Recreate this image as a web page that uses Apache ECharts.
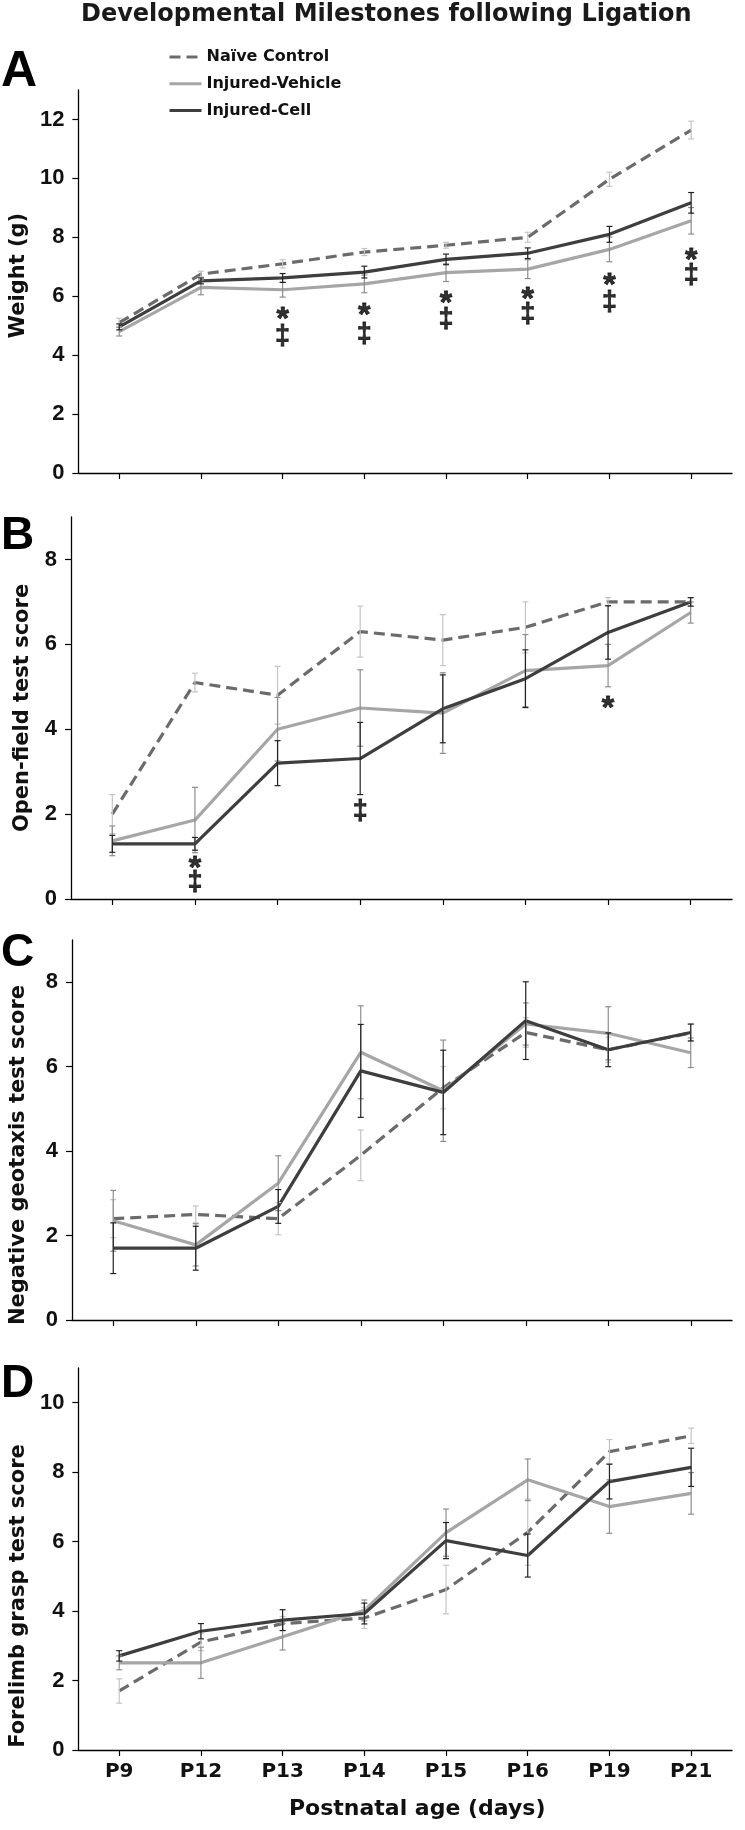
<!DOCTYPE html>
<html><head><meta charset="utf-8">
<script src="https://cdn.jsdelivr.net/npm/echarts@6/dist/echarts.min.js"></script>
<style>html,body{margin:0;padding:0;background:#fff}#c{width:745px;height:1830px}</style>
</head><body><div id="c"></div>
<script>
// ---------- data ----------
const categories = ['P9','P12','P13','P14','P15','P16','P19','P21'];
const seriesNames = ['Naïve Control','Injured-Vehicle','Injured-Cell'];

// A: Weight (g)
const weightNaive      = [5.1, 6.75, 7.1, 7.5, 7.73, 8.0, 9.97, 11.64];
const weightNaiveErr   = [0.15, 0.1, 0.14, 0.12, 0.1, 0.17, 0.24, 0.3];
const weightVehicle    = [4.8, 6.3, 6.22, 6.42, 6.8, 6.92, 7.59, 8.56];
const weightVehicleErr = [0.15, 0.25, 0.25, 0.3, 0.3, 0.32, 0.42, 0.45];
const weightCell       = [4.96, 6.52, 6.62, 6.82, 7.25, 7.46, 8.1, 9.17];
const weightCellErr    = [0.1, 0.1, 0.15, 0.2, 0.18, 0.18, 0.27, 0.35];
const weightStar       = [null, null, 5.47, 5.58, 6.0, 6.15, 6.6, 7.45];
const weightDagger     = [null, null, 4.56, 4.62, 5.13, 5.3, 5.72, 6.62];

// B: Open-field test score
const openNaive      = [2.0, 5.1, 4.8, 6.3, 6.1, 6.4, 7.0, 7.0];
const openNaiveErr   = [0.46, 0.22, 0.68, 0.6, 0.6, 0.6, 0.1, 0.1];
const openVehicle    = [1.37, 1.86, 4.0, 4.5, 4.38, 5.38, 5.5, 6.75];
const openVehicleErr = [0.35, 0.77, 0.75, 0.9, 0.95, 0.85, 0.5, 0.25];
const openCell       = [1.3, 1.3, 3.2, 3.31, 4.48, 5.19, 6.28, 7.0];
const openCellErr    = [0.2, 0.15, 0.53, 0.85, 0.8, 0.68, 0.63, 0.1];
const openStar       = [null, 0.88, null, null, null, null, 4.67, null];
const openDagger     = [null, 0.34, null, 2.01, null, null, null, null];

// C: Negative geotaxis test score
const geoNaive      = [2.4, 2.5, 2.4, 3.9, 5.5, 6.81, 6.4, 6.8];
const geoNaiveErr   = [0.45, 0.2, 0.38, 0.6, 0.5, 0.35, 0.3, 0.2];
const geoVehicle    = [2.35, 1.78, 3.24, 6.34, 5.43, 7.01, 6.79, 6.33];
const geoVehicleErr = [0.72, 0.5, 0.65, 1.1, 1.2, 0.5, 0.63, 0.35];
const geoCell       = [1.7, 1.7, 2.69, 5.9, 5.39, 7.09, 6.4, 6.81];
const geoCellErr    = [0.6, 0.52, 0.4, 1.1, 1.0, 0.92, 0.4, 0.2];

// D: Forelimb grasp test score
const graspNaive      = [1.7, 3.11, 3.64, 3.8, 4.62, 6.27, 8.59, 9.05];
const graspNaiveErr   = [0.35, 0.25, 0.2, 0.3, 0.7, 0.95, 0.35, 0.22];
const graspVehicle    = [2.51, 2.51, 3.26, 4.02, 6.26, 7.78, 7.01, 7.39];
const graspVehicleErr = [0.2, 0.45, 0.38, 0.3, 0.68, 0.6, 0.77, 0.6];
const graspCell       = [2.71, 3.42, 3.74, 3.93, 6.03, 5.6, 7.73, 8.14];
const graspCellErr    = [0.15, 0.22, 0.3, 0.3, 0.52, 0.62, 0.5, 0.55];

// axis ticks
const weightTicks = [0, 2, 4, 6, 8, 10, 12];
const scoreTicks9 = [0, 2, 4, 6, 8];
const graspTicks  = [0, 2, 4, 6, 8, 10];

// ---------- styling ----------
const DV = '"DejaVu Sans", sans-serif';
const AR = '"Liberation Sans", Arial, sans-serif';
const INK = '#111';
const C_NAIVE = '#6b6b6b', C_VEH = '#a6a6a6', C_CELL = '#3e3e3e';
const E_NAIVE = '#c4c4c4', E_VEH = '#8e8e8e', E_CELL = '#222';

const panels = [
  {name:'Weight (g)', top:90, height:383, max:13, ticks:weightTicks, nameGap:48, pad:[0,0,0,12],
   d:[weightNaive, weightVehicle, weightCell], e:[weightNaiveErr, weightVehicleErr, weightCellErr],
   star:weightStar, dagger:weightDagger},
  {name:'Open-field test score', top:517, height:382, max:9, ticks:scoreTicks9, nameGap:38, pad:[0,0,0,0],
   d:[openNaive, openVehicle, openCell], e:[openNaiveErr, openVehicleErr, openCellErr],
   star:openStar, dagger:openDagger},
  {name:'Negative geotaxis test score', top:940, height:380, max:9, ticks:scoreTicks9, nameGap:43, pad:[0,50,0,0],
   d:[geoNaive, geoVehicle, geoCell], e:[geoNaiveErr, geoVehicleErr, geoCellErr]},
  {name:'Forelimb grasp test score', top:1368, height:382, max:11, ticks:graspTicks, nameGap:47, pad:[0,74,0,0],
   d:[graspNaive, graspVehicle, graspCell], e:[graspNaiveErr, graspVehicleErr, graspCellErr]}
];

const grids = [], xAxes = [], yAxes = [], series = [];
const lineColors = [C_NAIVE, C_VEH, C_CELL];
const errColors = [E_NAIVE, E_VEH, E_CELL];

function errSeries(vals, errs, gi, color) {
  return {
    type:'custom', name:'err', xAxisIndex:gi, yAxisIndex:gi, z:4, silent:true,
    data: vals.map((v,i)=>[i, v-errs[i], v+errs[i]]),
    encode:{x:0, y:[1,2]},
    renderItem(params, api){
      const x = api.value(0);
      const lo = api.coord([x, api.value(1)]);
      const hi = api.coord([x, api.value(2)]);
      const w = 3;
      const style = {stroke:color, lineWidth:1.2};
      return {type:'group', children:[
        {type:'line', shape:{x1:lo[0], y1:lo[1], x2:hi[0], y2:hi[1]}, style},
        {type:'line', shape:{x1:lo[0]-w, y1:lo[1], x2:lo[0]+w, y2:lo[1]}, style},
        {type:'line', shape:{x1:hi[0]-w, y1:hi[1], x2:hi[0]+w, y2:hi[1]}, style}
      ]};
    }
  };
}
function markSeries(vals, text, gi, fontSize, offset) {
  const data = [];
  vals.forEach((v,i)=>{ if (v != null) data.push([i, v]); });
  return {
    type:'scatter', name:'mark', xAxisIndex:gi, yAxisIndex:gi, z:6, silent:true,
    symbolSize:1, itemStyle:{color:'rgba(0,0,0,0)'}, data,
    label:{show:true, position:'inside', formatter:text, color:'#000', fontSize, fontWeight:'bold',
           fontFamily:AR, offset, textBorderColor:'#000', textBorderWidth:0.8}
  };
}

panels.forEach((p, gi) => {
  grids.push({left:71, right:13, top:p.top, height:p.height, containLabel:false});
  const last = gi === panels.length - 1;
  xAxes.push({
    type:'category', gridIndex:gi, data:categories, boundaryGap:true,
    axisLine:{lineStyle:{color:'#000', width:1.3}},
    axisTick:{show:true, alignWithLabel:true, length:6, lineStyle:{color:'#000', width:1.2}},
    axisLabel:{show:last, margin:12, color:INK, fontFamily:DV, fontWeight:'bold', fontSize:20},
    name: last ? 'Postnatal age (days)' : '',
    nameLocation:'middle', nameGap:48,
    nameTextStyle:{color:INK, fontFamily:DV, fontWeight:'bold', fontSize:22, padding:[0,0,0,24]}
  });
  yAxes.push({
    type:'value', gridIndex:gi, min:0, max:p.max, interval:2,
    splitLine:{show:false},
    axisLine:{show:true, lineStyle:{color:'#000', width:1.3}},
    axisTick:{show:true, length:6, customValues:p.ticks, lineStyle:{color:'#000', width:1.2}},
    axisLabel:{margin:14, customValues:p.ticks, color:INK, fontFamily:AR, fontWeight:'bold', fontSize:22},
    name:p.name, nameLocation:'middle', nameGap:p.nameGap, nameRotate:90,
    nameTextStyle:{color:INK, fontFamily:DV, fontWeight:'bold', fontSize:21, padding:p.pad}
  });
  p.d.forEach((vals, k) => {
    series.push({
      type:'line', name:seriesNames[k], xAxisIndex:gi, yAxisIndex:gi, data:vals,
      symbol:'none', showSymbol:false, z:3, silent:true,
      lineStyle:{color:lineColors[k], width:3.2, type: k === 0 ? [11,6] : 'solid'},
      itemStyle:{color:lineColors[k]}
    });
  });
  p.d.forEach((vals, k) => series.push(errSeries(vals, p.e[k], gi, errColors[k])));
  if (p.star) series.push(markSeries(p.star, '*', gi, 32, [0, 8]));
  if (p.dagger) series.push(markSeries(p.dagger, '‡', gi, 27, [0, -2]));
});

const letters = [
  {text:'A', top:47, size:50}, {text:'B', top:513, size:46},
  {text:'C', top:930, size:46}, {text:'D', top:1361, size:46}
];
const titles = [{
  text:'Developmental Milestones following Ligation', left:81, top:3, padding:0,
  textStyle:{fontFamily:DV, fontWeight:'bold', fontSize:24, color:'#1a1a1a'}
}].concat(letters.map(l => ({
  text:l.text, left:1, top:l.top, padding:0,
  textStyle:{fontFamily:AR, fontWeight:'bold', fontSize:l.size, color:'#000'}
})));

const chart = echarts.init(document.getElementById('c'), null, {renderer:'canvas'});
chart.setOption({
  animation:false,
  backgroundColor:'#fff',
  title:titles,
  legend:{
    data:seriesNames, orient:'vertical', left:168, top:49, itemGap:10.7,
    itemWidth:32, itemHeight:14, padding:0,
    itemStyle:{opacity:0},
    lineStyle:{width:3},
    textStyle:{fontFamily:DV, fontWeight:'bold', fontSize:16, color:INK, lineHeight:16}
  },
  grid:grids, xAxis:xAxes, yAxis:yAxes, series
});
</script>
</body></html>
